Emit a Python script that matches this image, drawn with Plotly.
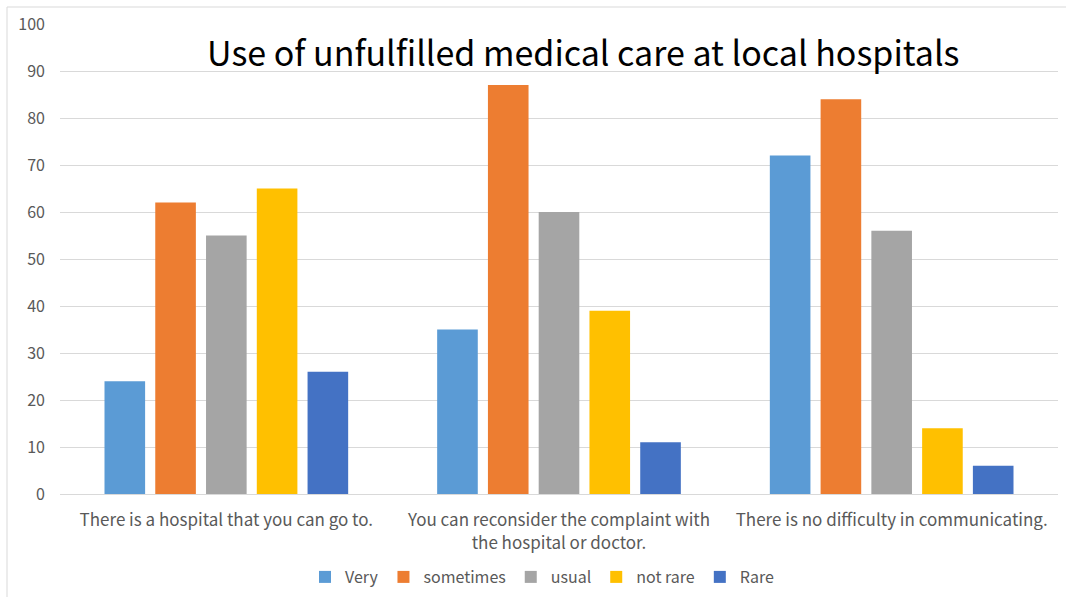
import plotly.graph_objects as go

categories = [
    "There is a hospital that you can go to.",
    "You can reconsider the complaint with<br>the hospital or doctor.",
    "There is no difficulty in communicating.",
]
series_names = ["Very", "sometimes", "usual", "not rare", "Rare"]
very = [24, 35, 72]
sometimes = [62, 87, 84]
usual = [55, 60, 56]
not_rare = [65, 39, 14]
rare = [26, 11, 6]
colors = ["#5B9BD5", "#ED7D31", "#A5A5A5", "#FFC000", "#4472C4"]

y_ticks = list(range(0, 101, 10))

FONT = "Noto Sans CJK KR"
W, H = 1066, 597
L, R, T, B = 60, 8, 24, 103

fig = go.Figure()
for name, vals, col in zip(series_names, [very, sometimes, usual, not_rare, rare], colors):
    fig.add_trace(go.Bar(name=name, x=categories, y=vals, marker=dict(color=col, line=dict(width=0))))

pw = W - L - R
ph = H - T - B


def px_x(x):
    return (x - L) / pw


def px_y(y):
    return (H - B - y) / ph


fig.update_layout(
    width=W,
    height=H,
    margin=dict(l=L, r=R, t=T, b=B, autoexpand=False),
    paper_bgcolor="white",
    plot_bgcolor="white",
    barmode="group",
    bargap=0.237,
    bargroupgap=0.2,
    font=dict(family=FONT, color="#595959", size=16),
    showlegend=True,
    legend=dict(
        orientation="h",
        x=px_x(542),
        xanchor="center",
        y=px_y(577),
        yanchor="middle",
        font=dict(size=16, color="#595959"),
        itemwidth=30,
        tracegroupgap=0,
    ),
    xaxis=dict(
        showgrid=False,
        showline=True,
        linecolor="#D9D9D9",
        linewidth=1,
        ticks="",
        ticklabelstandoff=11,
        tickfont=dict(size=17, color="#595959"),
    ),
    yaxis=dict(
        range=[0, 100],
        tickvals=y_ticks,
        showgrid=True,
        gridcolor="#D9D9D9",
        gridwidth=1,
        zeroline=False,
        ticks="",
        ticklabelstandoff=14,
        tickfont=dict(size=16, color="#595959"),
    ),
    annotations=[
        dict(
            text="Use of unfulfilled medical care at local hospitals",
            xref="paper",
            yref="paper",
            x=px_x(583),
            y=px_y(51),
            xanchor="center",
            yanchor="middle",
            showarrow=False,
            font=dict(family=FONT, size=34, color="#000000"),
        )
    ],
    shapes=[
        dict(type="line", xref="paper", yref="paper",
             x0=px_x(7), x1=px_x(1070), y0=px_y(7), y1=px_y(7),
             line=dict(color="#D9D9D9", width=1)),
        dict(type="line", xref="paper", yref="paper",
             x0=px_x(7), x1=px_x(7), y0=px_y(7), y1=px_y(600),
             line=dict(color="#D9D9D9", width=1)),
    ],
)

fig.write_html("out.html")
